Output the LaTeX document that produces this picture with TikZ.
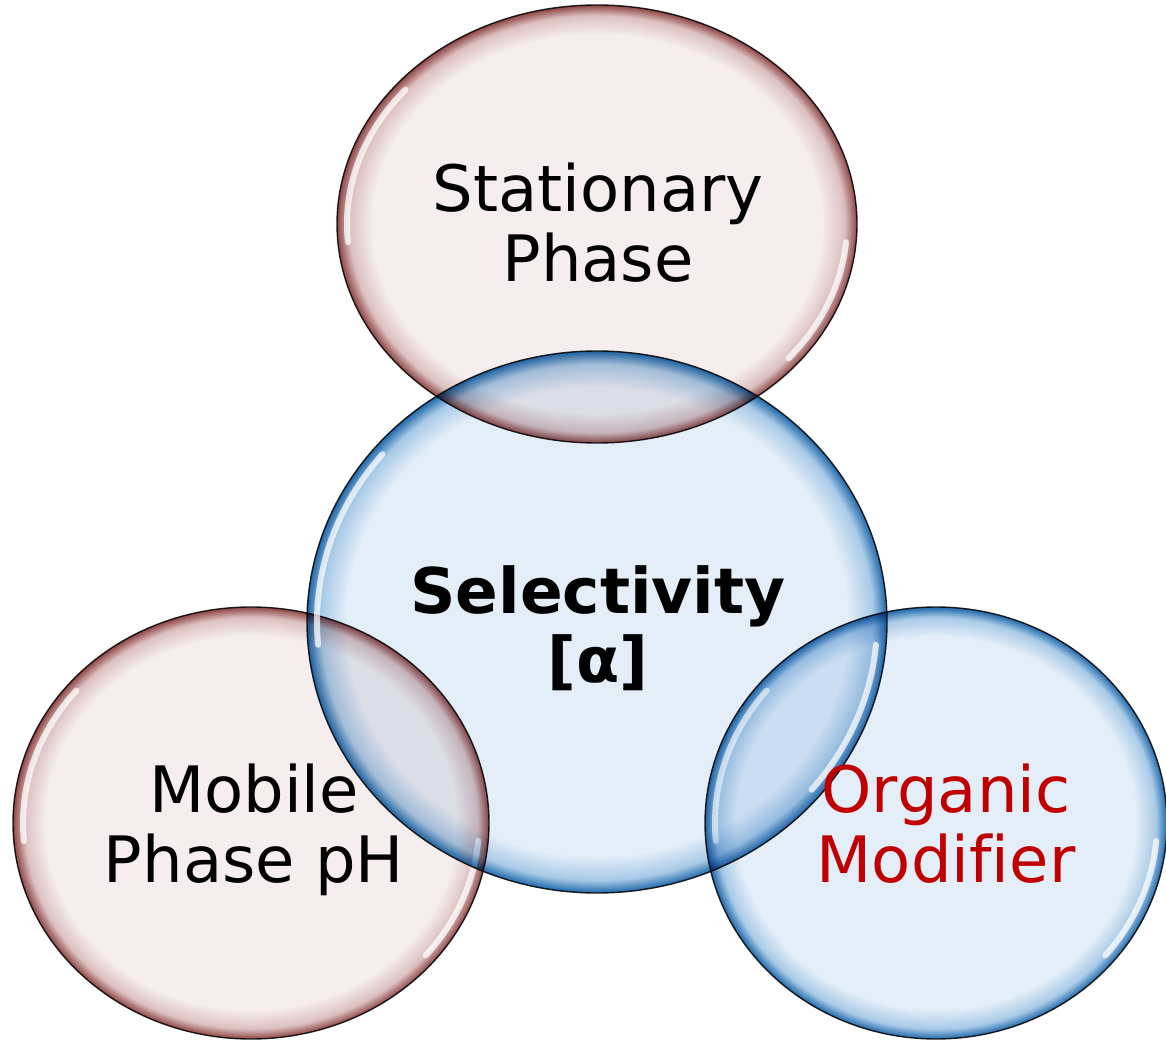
\documentclass[tikz,border=0pt]{standalone}
\usepackage{fontspec}
\setmainfont[Ligatures=NoCommon]{DejaVu Sans}
\usetikzlibrary{shapes.geometric}
\definecolor{rosein}{HTML}{F6EEEE}
\definecolor{rosemid}{HTML}{DCC0C0}
\definecolor{roserim}{HTML}{8E4646}
\definecolor{skyin}{HTML}{E4EEF8}
\definecolor{skymid}{HTML}{A8CAE7}
\definecolor{skyrim}{HTML}{2069AA}
\definecolor{modred}{HTML}{C00000}
\pgfdeclareradialshading{roseglass}{\pgfpoint{0bp}{0bp}}{color(0bp)=(rosein); color(21.6bp)=(rosein); color(23.8bp)=(rosemid); color(25bp)=(roserim); color(50bp)=(roserim)}
\pgfdeclareradialshading{skyglass}{\pgfpoint{0bp}{0bp}}{color(0bp)=(skyin); color(21.6bp)=(skyin); color(23.8bp)=(skymid); color(25bp)=(skyrim); color(50bp)=(skyrim)}

\begin{document}
\begin{tikzpicture}[x=0.5pt, y=0.5pt,
		bubble/.style={draw=black!85, line width=0.7pt, ellipse, inner sep=0pt, blend mode=multiply},
		rose/.style={bubble, shading=roseglass},
		sky/.style={bubble, shading=skyglass},
		glint/.style={draw=white, line width=3pt, line cap=round, opacity=0.75},
		caption/.style={anchor=base, align=center, font=\fontsize{32}{35}\selectfont}]
	\useasboundingbox (0,0) rectangle (1166,-1042);
	% the four bubbles
	\node[rose, minimum width=238pt, minimum height=216pt] (mob) at (251,-823) {};
	\draw[glint] (mob.center) ++(140:228 and 206) arc[start angle=140, end angle=185, x radius=228, y radius=206];
	\draw[glint] (mob.center) ++(-5:228 and 206) arc[start angle=-5, end angle=-40, x radius=228, y radius=206];
	\node[sky, minimum width=231pt, minimum height=216pt] (org) at (936,-823) {};
	\draw[glint] (org.center) ++(140:221 and 206) arc[start angle=140, end angle=185, x radius=221, y radius=206];
	\draw[glint] (org.center) ++(-5:221 and 206) arc[start angle=-5, end angle=-40, x radius=221, y radius=206];
	\node[sky, minimum width=290pt, minimum height=271pt] (sel) at (597,-622) {};
	\draw[glint] (sel.center) ++(140:280 and 261) arc[start angle=140, end angle=185, x radius=280, y radius=261];
	\draw[glint] (sel.center) ++(-5:280 and 261) arc[start angle=-5, end angle=-40, x radius=280, y radius=261];
	\node[rose, minimum width=260pt, minimum height=219pt] (stat) at (597,-224) {};
	\draw[glint] (stat.center) ++(140:250 and 209) arc[start angle=140, end angle=185, x radius=250, y radius=209];
	\draw[glint] (stat.center) ++(-5:250 and 209) arc[start angle=-5, end angle=-40, x radius=250, y radius=209];
	% texts
	\node[caption] (stattext) at (598,-282) {Stationary\\Phase};
	\node[caption, font=\fontsize{31.5}{34.5}\selectfont\bfseries] (seltext) at (598,-682) {Selectivity\\{[}α{]}};
	\node[caption] (mobtext) at (254,-882) {Mobile\\Phase pH};
	\node[caption, text=modred] (orgtext) at (946,-882) {Organic\\Modifier};
\end{tikzpicture}
\end{document}
